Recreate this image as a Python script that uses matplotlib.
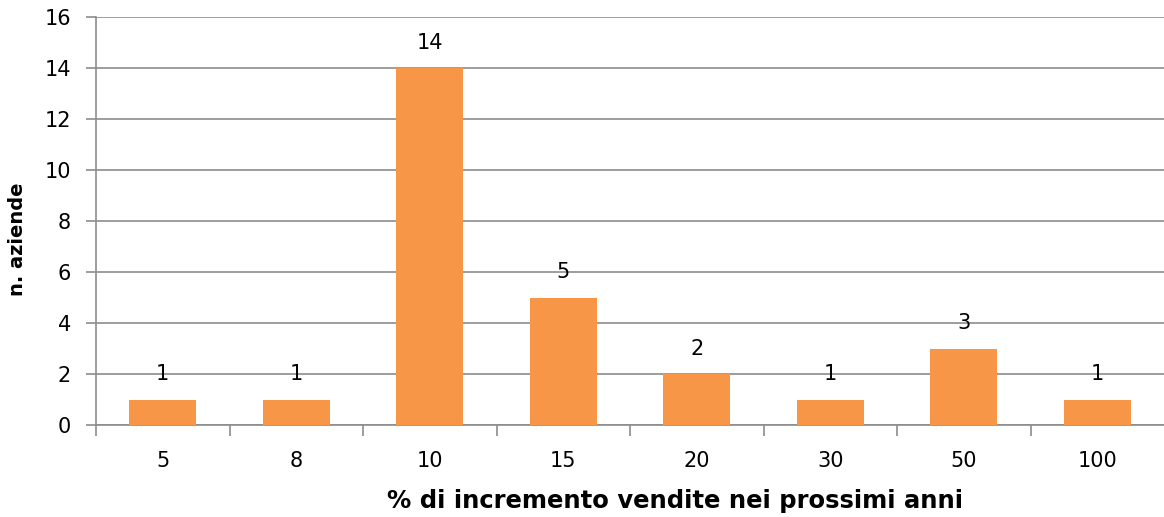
import matplotlib
matplotlib.use("Agg")
import matplotlib.pyplot as plt
import numpy as np

categories = ["5", "8", "10", "15", "20", "30", "50", "100"]
counts = [1, 1, 14, 5, 2, 1, 3, 1]
y_ticks = [0, 2, 4, 6, 8, 10, 12, 14, 16]

plt.rcParams['font.family'] = ['DejaVu Sans']

fig = plt.figure(figsize=(11.64, 5.17), dpi=100)
ax = fig.add_axes([96 / 1164, 1 - 425 / 517, 1 - 96 / 1164, (425 - 17) / 517])

grid_color = "#8c8c8c"
bar_color = "#F79646"

x = np.arange(len(categories))
ax.bar(x, counts, width=0.5, color=bar_color, zorder=3)

for xi, v in zip(x, counts):
    ax.annotate(str(v), (xi, v), xytext=(0, 11), textcoords="offset points",
                ha="center", va="bottom", fontsize=15, color="black")

ax.set_xlim(-0.5, len(categories) - 0.5)
ax.set_ylim(0, 16)
ax.set_yticks(y_ticks)
ax.yaxis.grid(True, color=grid_color, linewidth=1.2, zorder=0)
ax.set_axisbelow(True)

ax.set_xticks(x)
ax.set_xticklabels(categories, fontsize=15)
ax.tick_params(axis="x", length=0, pad=19)
ax.set_xticks(np.arange(-0.5, len(categories) - 0.5, 1.0), minor=True)
ax.tick_params(axis="x", which="minor", length=8, color=grid_color, width=1.2)
ax.tick_params(axis="y", length=7, color=grid_color, width=1.2, labelsize=15, pad=11)

for side in ["top", "right"]:
    ax.spines[side].set_visible(False)
for side in ["left", "bottom"]:
    ax.spines[side].set_color(grid_color)
    ax.spines[side].set_linewidth(1.2)

ax.set_ylabel("n. aziende", fontsize=14, fontweight="bold")
ax.yaxis.set_label_coords(-0.0646, 0.456)
ax.set_xlabel("% di incremento vendite nei prossimi anni", fontsize=17.5,
              fontweight="bold")
ax.xaxis.set_label_coords(0.542, -0.157)

fig.savefig("out.png", dpi=100)
